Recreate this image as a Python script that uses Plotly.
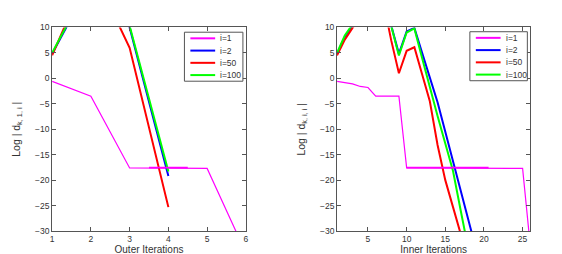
import plotly.graph_objects as go

# ---------------- data ----------------
outer_x = [1, 2, 3, 4, 5, 6]
outer_i1 = [-0.6, -3.5, -17.6, -17.65, -17.7, -34.3]
outer_i2 = [4.8, 19.0, 10.0, -19.2]
outer_i50 = [4.5, 22.0, 6.0, -25.3]
outer_i100 = [5.0, 19.3, 10.3, -18.3]
outer_i1_overlay_x = [3.5, 4.5]
outer_i1_overlay_y = [-17.55, -17.55]

inner_x = list(range(1, 27))
inner_i1 = [-0.6, -0.9, -1.1, -1.6, -1.8, -3.5, -3.5, -3.5, -3.5,
            -17.6, -17.6, -17.6, -17.6, -17.6, -17.6, -17.6, -17.6,
            -17.6, -17.6, -17.6, -17.6, -17.65, -17.65, -17.7, -17.7, -33.0]
inner_i2 = [4.8, 8.1, 10.3, 13, 15, 16, 16, 10.5, 4.8, 9.2, 9.9, 5.0,
            0.2, -4.7, -10.5, -16.3, -22.1, -27.9, -33.7]
inner_i50 = [4.5, 7.6, 9.9, 12, 13, 14, 15, 7.5, 1.0, 5.4, 6.1, 0.8,
             -4.5, -13.1, -20.0, -25.3, -30.6]
inner_i100 = [5.0, 8.4, 10.6, 13, 15, 16, 16, 10.3, 4.5, 9.0, 9.8, 4.0,
              -1.8, -7.4, -12.8, -18.2, -26.0, -33.7]
inner_i1_overlay_x = [10.0, 20.6]
inner_i1_overlay_y = [-17.55, -17.55]

names = ["i=1", "i=2", "i=50", "i=100"]
colors = ["#ff00ff", "#0000ff", "#ff0000", "#00ff00"]
widths = [1.2, 2.0, 2.0, 2.0]

y_ticks = [-30, -25, -20, -15, -10, -5, 0, 5, 10]
outer_ticks = [1, 2, 3, 4, 5, 6]
inner_ticks = [5, 10, 15, 20, 25]

# ---------------- figure ----------------
W, H = 562, 254
font_main = "Liberation Sans, Arial, sans-serif"
axcol = "#555555"
txtcol = "#333333"

fig = go.Figure()

def x_of(series, xs):
    return xs[:len(series)]

outer_series = [outer_i1, outer_i2, outer_i50, outer_i100]
inner_series = [inner_i1, inner_i2, inner_i50, inner_i100]

for s, n, c, w in zip(outer_series, names, colors, widths):
    fig.add_trace(go.Scatter(x=x_of(s, outer_x), y=s, mode="lines", name=n,
                             line=dict(color=c, width=w), showlegend=False,
                             xaxis="x", yaxis="y"))
fig.add_trace(go.Scatter(x=outer_i1_overlay_x, y=outer_i1_overlay_y, mode="lines",
                         line=dict(color=colors[0], width=1.8), showlegend=False,
                         xaxis="x", yaxis="y"))

for s, n, c, w in zip(inner_series, names, colors, widths):
    fig.add_trace(go.Scatter(x=x_of(s, inner_x), y=s, mode="lines", name=n,
                             line=dict(color=c, width=w), showlegend=False,
                             xaxis="x2", yaxis="y2"))
fig.add_trace(go.Scatter(x=inner_i1_overlay_x, y=inner_i1_overlay_y, mode="lines",
                         line=dict(color=colors[0], width=1.8), showlegend=False,
                         xaxis="x2", yaxis="y2"))

# ---- MATLAB-style compact legends (box, line samples, labels) ----
def add_legend(box_left, box_top, box_w, box_h):
    px = lambda v: v / W
    py = lambda v: 1 - v / H
    fig.add_shape(type="rect", xref="paper", yref="paper",
                  x0=px(box_left), x1=px(box_left + box_w),
                  y0=py(box_top + box_h), y1=py(box_top),
                  line=dict(color=axcol, width=1), fillcolor="white", layer="above")
    step = box_h / len(names)
    for k, (n, c) in enumerate(zip(names, colors)):
        yc = box_top + step * (k + 0.5)
        fig.add_shape(type="line", xref="paper", yref="paper",
                      x0=px(box_left + 6), x1=px(box_left + 31),
                      y0=py(yc), y1=py(yc),
                      line=dict(color=c, width=2), layer="above")
        fig.add_annotation(xref="paper", yref="paper", x=px(box_left + 34), y=py(yc),
                           text=n, showarrow=False, xanchor="left", yanchor="middle",
                           font=dict(size=8.5, color=txtcol, family=font_main))

add_legend(176, 20, 59, 51)
add_legend(464, 19.5, 58, 51)

common_ax = dict(showline=True, linecolor=axcol, linewidth=1, mirror="ticks",
                 ticks="inside", ticklen=4, tickcolor=axcol, showgrid=False,
                 zeroline=False, tickfont=dict(size=8.5, color=txtcol, family=font_main))

fig.update_layout(
    width=W, height=H,
    margin=dict(l=0, r=0, t=0, b=0),
    paper_bgcolor="white", plot_bgcolor="white",
    font=dict(family=font_main, color=txtcol),
    showlegend=False,
    xaxis=dict(domain=[42.5 / W, 238 / W], range=[1, 6], tickvals=outer_ticks,
               title=dict(text="Outer Iterations", font=dict(size=10, color=txtcol), standoff=1),
               anchor="y", **common_ax),
    yaxis=dict(domain=[1 - 227 / H, 1 - 15 / H], range=[-30, 10], tickvals=y_ticks,
               title=dict(text="Log | d<sub>k, 1, i</sub> |", font=dict(size=10.5, color=txtcol), standoff=12),
               anchor="x", **common_ax),
    xaxis2=dict(domain=[330 / W, 525 / W], range=[1, 26], tickvals=inner_ticks,
                title=dict(text="Inner Iterations", font=dict(size=10, color=txtcol), standoff=1),
                anchor="y2", **common_ax),
    yaxis2=dict(domain=[1 - 227 / H, 1 - 15 / H], range=[-30, 10], tickvals=y_ticks,
                title=dict(text="Log | d<sub>k, i, i</sub> |", font=dict(size=10.5, color=txtcol), standoff=12),
                anchor="x2", **common_ax),
)

fig.write_html("out.html")
